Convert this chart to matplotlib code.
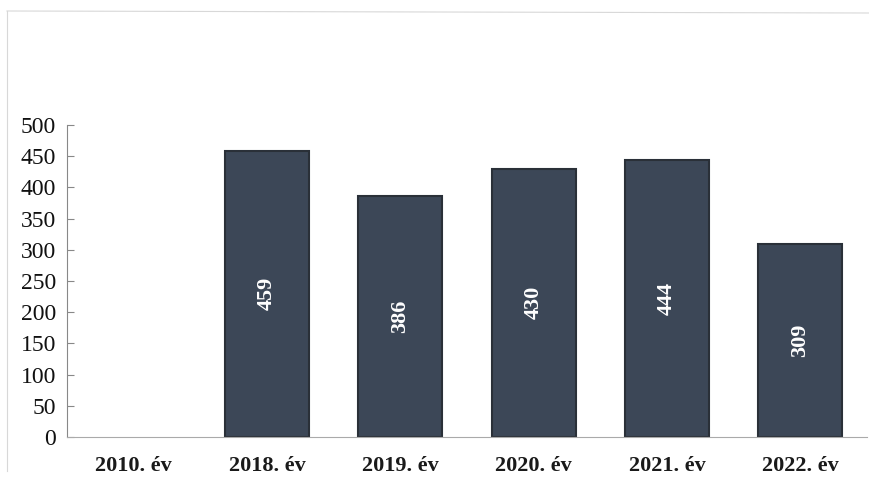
import matplotlib.pyplot as plt
from matplotlib.lines import Line2D

years = ['2010. év', '2018. év', '2019. év', '2020. év', '2021. év', '2022. év']
values = [0, 459, 386, 430, 444, 309]

plt.rcParams['font.family'] = ['Liberation Serif', 'DejaVu Serif']

fig = plt.figure(figsize=(8.69, 4.86), dpi=100)
ax = fig.add_axes([67 / 869, 1 - 437 / 486, 800 / 869, 312 / 486])

xs = list(range(len(years)))
bars = ax.bar(xs, values, width=0.63, color='#3c4757', edgecolor='#2a3038', linewidth=1.5)
for b, v in zip(bars, values):
    if v == 0:
        b.set_linewidth(0)

for x, v in zip(xs, values):
    if v > 0:
        ax.text(x, v / 2, str(v), rotation=90, ha='center', va='center',
                color='white', fontsize=16, fontweight='bold')

ax.set_xlim(-0.5, len(years) - 0.5)
ax.set_ylim(0, 500)
ax.set_yticks(range(0, 501, 50))
ax.set_xticks(xs)
ax.set_xticklabels(years, fontsize=16, fontweight='bold', color='#1a1a1a')
ax.tick_params(axis='y', direction='in', length=5, labelsize=17, colors='#888888',
               labelcolor='#111111', pad=8)
ax.tick_params(axis='x', length=0, pad=14)

for s in ['top', 'right']:
    ax.spines[s].set_visible(False)
ax.spines['left'].set_color('#888888')
ax.spines['bottom'].set_color('#aaaaaa')

# faint scanned frame (top and left edges)
fig.lines.append(Line2D([7 / 869, 1], [1 - 11 / 486, 1 - 13 / 486], transform=fig.transFigure,
                        color='#d8d8d8', linewidth=0.8))
fig.lines.append(Line2D([7 / 869, 7 / 869], [1 - 11 / 486, 0.03], transform=fig.transFigure,
                        color='#d8d8d8', linewidth=0.8))

fig.savefig('out.png', dpi=100)
